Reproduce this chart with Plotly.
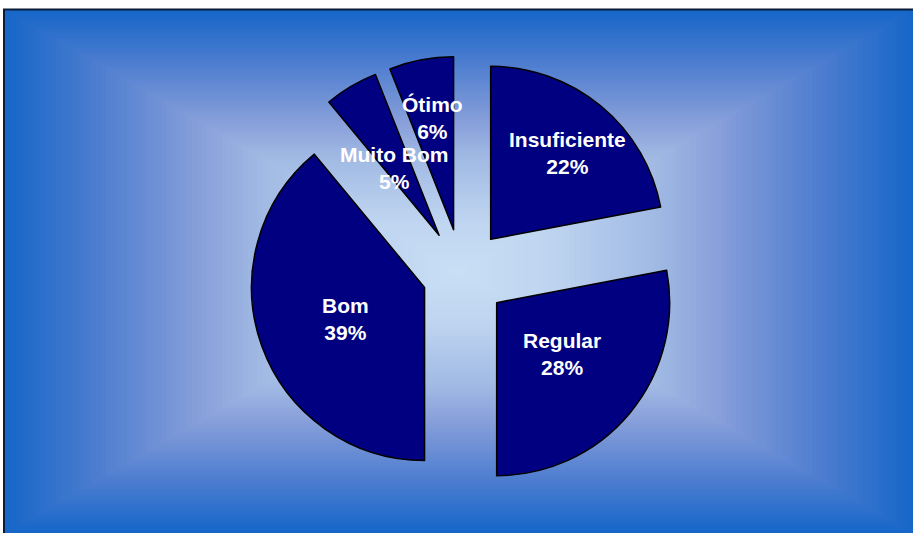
import plotly.graph_objects as go

# ---- data ----
labels = ["Insuficiente", "Regular", "Bom", "Muito Bom", "Ótimo"]
values = [22, 28, 39, 5, 6]
pulls = [0.26, 0.26, 0.23, 0.26, 0.26]

# label text positions in pixels (centre of the two-line block)
label_pos = [(567, 153), (562, 354), (345, 319), (394, 168), (432, 118)]

W, H = 913, 533

def px(x):
    return x / W

def py(y):
    return 1 - y / H

fig = go.Figure()

fig.add_trace(go.Pie(
    labels=labels,
    values=values,
    pull=pulls,
    sort=False,
    direction="clockwise",
    rotation=0,
    textinfo="none",
    hoverinfo="label+percent",
    marker=dict(colors=["#000080"] * len(values),
                line=dict(color="#000000", width=1.5)),
    domain=dict(x=[px(244), px(680)], y=[py(492), py(56)]),
    showlegend=False,
))

# ---- rectangular gradient background ----
stops = [
    (0.00, (21, 102, 200)),
    (0.21, (79, 126, 208)),
    (0.43, (136, 159, 218)),
    (0.56, (160, 185, 227)),
    (0.80, (190, 212, 240)),
    (1.00, (201, 223, 245)),
]

def grad(t):
    for (t0, c0), (t1, c1) in zip(stops[:-1], stops[1:]):
        if t <= t1:
            f = (t - t0) / (t1 - t0)
            return "rgb(%d,%d,%d)" % tuple(round(a + (b - a) * f) for a, b in zip(c0, c1))
    return "rgb(%d,%d,%d)" % stops[-1][1]

x0, y0, x1, y1 = 5, 10, 913, 533
cx, cy = (x0 + x1) / 2, (y0 + y1) / 2
hw, hh = (x1 - x0) / 2, (y1 - y0) / 2
shapes = []
N = 90
for i in range(N):
    t = i / N
    s = 1 - t
    shapes.append(dict(
        type="rect", xref="paper", yref="paper", layer="below",
        x0=px(cx - hw * s), x1=px(cx + hw * s),
        y0=py(cy + hh * s), y1=py(cy - hh * s),
        fillcolor=grad(t + 0.5 / N), line=dict(width=0),
    ))
# frame line (top and left visible)
shapes.append(dict(
    type="rect", xref="paper", yref="paper", layer="below",
    x0=px(4), x1=px(917), y0=py(537), y1=py(9.5),
    fillcolor="rgba(0,0,0,0)", line=dict(color="#0b1c38", width=2),
))

annotations = []
for lab, val, (lx, ly) in zip(labels, values, label_pos):
    annotations.append(dict(
        x=px(lx), y=py(ly), xref="paper", yref="paper",
        text="<b>%s</b><br><b>%d%%</b>" % (lab, val),
        showarrow=False, xanchor="center", yanchor="middle",
        font=dict(family="Liberation Sans, Arial, sans-serif", size=21, color="#ffffff"),
    ))

fig.update_layout(
    width=W, height=H,
    margin=dict(l=0, r=0, t=0, b=0),
    paper_bgcolor="#ffffff",
    plot_bgcolor="rgba(0,0,0,0)",
    shapes=shapes,
    annotations=annotations,
)

fig.write_html("out.html", config={"displayModeBar": False},
               post_script="document.body.style.margin='0';")
